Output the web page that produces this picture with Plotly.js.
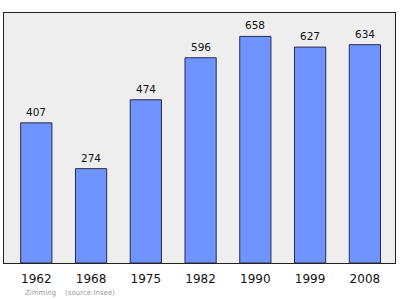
<!DOCTYPE html>
<html>
<head>
<meta charset="utf-8">
<script src="https://cdn.plot.ly/plotly-3.0.1.min.js"></script>
<style>
  html, body { margin: 0; padding: 0; background: #ffffff; }
  #chart { width: 400px; height: 299px; }
</style>
</head>
<body>
<div id="chart"></div>
<script>
// Population of Zimming by census year
const years = ['1962', '1968', '1975', '1982', '1990', '1999', '2008'];
const population = [407, 274, 474, 596, 658, 627, 634];

const bars = {
  type: 'bar',
  x: years,
  y: population,
  width: 0.57,
  marker: {
    color: '#7094ff',
    line: { color: '#2a2a4a', width: 1 }
  },
  hoverinfo: 'none'
};

// Value labels sitting just above each bar (x given as category index)
const valueLabels = population.map((v, i) => ({
  x: i,
  y: v,
  xref: 'x',
  yref: 'y',
  text: String(v),
  showarrow: false,
  yanchor: 'bottom',
  yshift: 3,
  font: { family: 'DejaVu Sans, Arial, sans-serif', size: 10.5, color: '#111111' }
}));

const credit = {
  xref: 'paper', yref: 'paper',
  x: 0.048, y: -0.12,
  xanchor: 'left', yanchor: 'middle',
  text: 'Zimming&nbsp;&nbsp;&nbsp;&nbsp;(source:Insee)',
  showarrow: false,
  font: { family: 'DejaVu Sans, Arial, sans-serif', size: 7, color: '#9a9a9a' }
};

const layout = {
  width: 400,
  height: 299,
  margin: { l: 4, r: 5, t: 13, b: 36 },
  paper_bgcolor: '#ffffff',
  plot_bgcolor: '#eeeeee',
  showlegend: false,
  xaxis: {
    type: 'category',
    range: [-0.59, 6.55],
    showgrid: false,
    zeroline: false,
    showline: true,
    mirror: true,
    linecolor: '#222222',
    linewidth: 1,
    ticks: 'outside',
    ticklen: 5,
    tickcolor: 'rgba(0,0,0,0)',
    tickfont: { family: 'DejaVu Sans, Arial, sans-serif', size: 12, color: '#111111' },
    fixedrange: true
  },
  yaxis: {
    range: [0, 726],
    showgrid: false,
    zeroline: false,
    showline: true,
    mirror: true,
    linecolor: '#222222',
    linewidth: 1,
    showticklabels: false,
    ticks: '',
    fixedrange: true
  },
  annotations: valueLabels.concat([credit])
};

Plotly.newPlot('chart', [bars], layout, { displayModeBar: false, staticPlot: true });
</script>
</body>
</html>
